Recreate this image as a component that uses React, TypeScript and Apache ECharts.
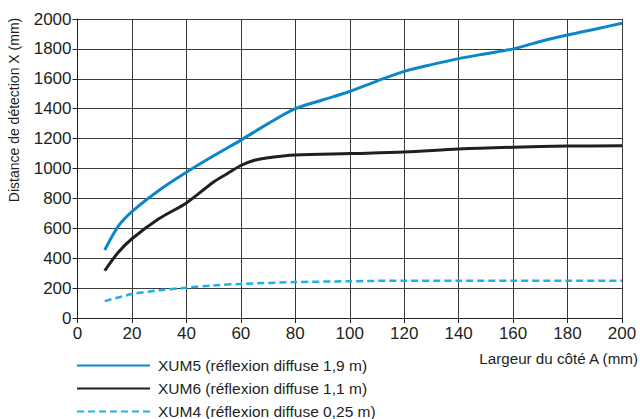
import React, { useEffect, useRef } from "react";
import * as echarts from "echarts";

const xum5X = [10, 15, 20, 30, 40, 50, 60, 70, 80, 90, 100, 110, 120, 130, 140, 150, 160, 170, 180, 190, 200];
const xum5Y = [455, 615, 712, 855, 975, 1085, 1190, 1300, 1400, 1458, 1515, 1585, 1650, 1695, 1735, 1768, 1800, 1850, 1893, 1932, 1971];

const xum6X = [10, 15, 20, 30, 40, 50, 55, 60, 65, 70, 80, 100, 120, 140, 160, 180, 200];
const xum6Y = [316, 440, 530, 665, 770, 910, 965, 1020, 1055, 1072, 1090, 1100, 1110, 1130, 1142, 1150, 1152];

const xum4X = [10, 20, 30, 40, 50, 60, 80, 100, 120, 140, 160, 180, 200];
const xum4Y = [113, 160, 185, 203, 218, 228, 240, 246, 250, 250, 250, 250, 250];

const xTicks = [0, 20, 40, 60, 80, 100, 120, 140, 160, 180, 200];
const yTicks = [0, 200, 400, 600, 800, 1000, 1200, 1400, 1600, 1800, 2000];

const seriesNames = [
  "XUM5 (réflexion diffuse 1,9 m)",
  "XUM6 (réflexion diffuse 1,1 m)",
  "XUM4 (réflexion diffuse 0,25 m)",
];

const zip = (xs: number[], ys: number[]) => xs.map((x, i) => [x, ys[i]]);

export default function App() {
  const ref = useRef<HTMLDivElement>(null);
  useEffect(() => {
    if (!ref.current) return;
    const chart = echarts.init(ref.current, undefined, { renderer: "svg" });
    const font = "'Liberation Sans', Arial, sans-serif";
    const textColor = "#231f20";
    chart.setOption({
      animation: false,
      textStyle: { fontFamily: font },
      grid: { left: 77.5, right: 18, top: 19, bottom: 101, containLabel: false },
      xAxis: {
        type: "value",
        min: xTicks[0],
        max: xTicks[xTicks.length - 1],
        interval: 20,
        axisLine: { show: true, lineStyle: { color: "#231f20", width: 1 } },
        axisTick: { show: true, length: 5, lineStyle: { color: "#231f20" } },
        axisLabel: { color: textColor, fontSize: 17, margin: 7, fontFamily: font },
        splitLine: { show: true, lineStyle: { color: "#3a3a3a", width: 1 } },
      },
      yAxis: {
        type: "value",
        min: yTicks[0],
        max: yTicks[yTicks.length - 1],
        interval: 200,
        axisLine: { show: true, lineStyle: { color: "#231f20", width: 1 } },
        axisTick: { show: true, length: 5, lineStyle: { color: "#231f20" } },
        axisLabel: {
          color: textColor,
          fontSize: 17,
          margin: 6,
          fontFamily: font,
          formatter: (v: number) => String(v),
        },
        splitLine: { show: true, lineStyle: { color: "#3a3a3a", width: 1 } },
      },
      legend: {
        orient: "vertical",
        left: 76,
        top: 357.5,
        width: 400,
        height: 120,
        padding: 0,
        itemWidth: 73,
        itemHeight: 14,
        itemGap: 7,
        itemStyle: { opacity: 0 },
        textStyle: { color: textColor, fontSize: 15.5, lineHeight: 14, fontFamily: font, padding: [0, 0, 0, 3] },
        data: seriesNames,
      },
      graphic: [
        {
          type: "text",
          x: 14,
          y: 110,
          rotation: Math.PI / 2,
          style: {
            text: "Distance de détection X (mm)",
            fontSize: 14,
            fontFamily: font,
            fill: textColor,
            align: "center",
            verticalAlign: "middle",
          },
        },
        {
          type: "text",
          x: 638,
          y: 358,
          style: {
            text: "Largeur du côté A (mm)",
            fontSize: 15.2,
            fontFamily: font,
            fill: textColor,
            align: "right",
            verticalAlign: "middle",
          },
        },
      ],
      series: [
        {
          name: seriesNames[0],
          type: "line",
          data: zip(xum5X, xum5Y),
          smooth: 0.3,
          symbol: "none",
          lineStyle: { color: "#0a87c9", width: 3 },
          itemStyle: { color: "#0a87c9" },
        },
        {
          name: seriesNames[1],
          type: "line",
          data: zip(xum6X, xum6Y),
          smooth: 0.3,
          symbol: "none",
          lineStyle: { color: "#231f20", width: 3 },
          itemStyle: { color: "#231f20" },
        },
        {
          name: seriesNames[2],
          type: "line",
          data: zip(xum4X, xum4Y),
          smooth: 0.3,
          symbol: "none",
          lineStyle: { color: "#1cb1ea", width: 2.5, type: [7, 4] },
          itemStyle: { color: "#1cb1ea" },
        },
      ],
    });
    return () => chart.dispose();
  }, []);
  return <div ref={ref} style={{ width: 640, height: 419, position: "absolute", left: 0, top: 0 }} />;
}
